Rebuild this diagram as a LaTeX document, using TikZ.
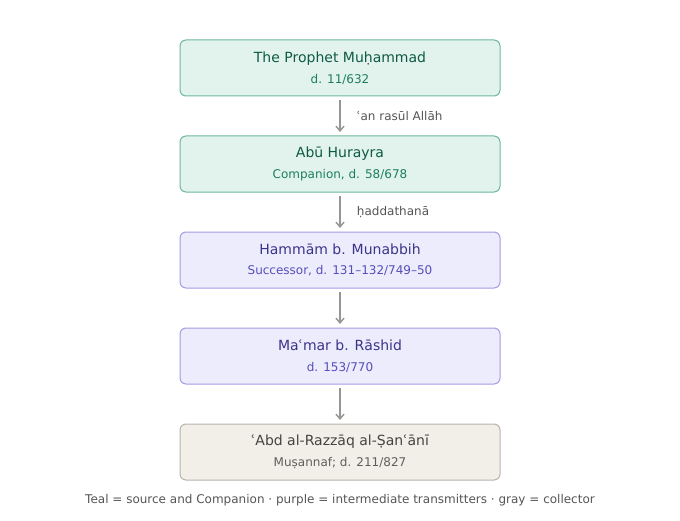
\documentclass[tikz,border=0pt]{standalone}
\usepackage{fontspec}
\setmainfont{DejaVu Sans}
\usepackage{xcolor}
\definecolor{TealFill}{HTML}{E1F3EC}
\definecolor{TealLine}{HTML}{6DB89A}
\definecolor{TealText}{HTML}{0E5A45}
\definecolor{TealSub}{HTML}{1B7F5E}
\definecolor{PurpFill}{HTML}{EDECFC}
\definecolor{PurpLine}{HTML}{A29CE3}
\definecolor{PurpText}{HTML}{3C3489}
\definecolor{PurpSub}{HTML}{574DBA}
\definecolor{GrayFill}{HTML}{F1EFE8}
\definecolor{GrayLine}{HTML}{B6B4AC}
\definecolor{GrayText}{HTML}{444441}
\definecolor{GraySub}{HTML}{5F5E5A}
\definecolor{ArrowGray}{HTML}{969692}
\definecolor{LabelGray}{HTML}{555555}
\usetikzlibrary{positioning,arrows.meta,calc}

\begin{document}
\begin{tikzpicture}[x=0.75pt, y=-0.75pt, line width=0.75pt, >={Straight Barb[length=3.5pt,width=6pt]},
    isnad/.style={
    rectangle,
    rounded corners=4.5pt,
    outer sep=0pt,
    minimum width=240pt,
    minimum height=42pt,
    align=center,
    font=\fontsize{10.5}{15.5}\selectfont},
    teal/.style={isnad, fill=TealFill, draw=TealLine, text=TealText},
    purp/.style={isnad, fill=PurpFill, draw=PurpLine, text=PurpText},
    graybox/.style={isnad, fill=GrayFill, draw=GrayLine, text=GrayText},
    link/.style={->, draw=ArrowGray, line width=1.1pt, shorten >=3pt, shorten <=3pt},
    via/.style={font=\fontsize{9}{11}\selectfont, text=LabelGray, anchor=west}]
    \useasboundingbox (0,0) rectangle (680,520);

    \node [teal] (Prophet) at (340,68) {The Prophet Muḥammad\\{\fontsize{9}{11}\selectfont\color{TealSub}d. 11/632}};
    \node [teal, below=30pt of Prophet] (Hurayra) {Abū Hurayra\\{\fontsize{9}{11}\selectfont\color{TealSub}Companion, d. 58/678}};
    \node [purp, below=30pt of Hurayra] (Hammam) {Hammām b. Munabbih\\{\fontsize{9}{11}\selectfont\color{PurpSub}Successor, d. 131–132/749–50}};
    \node [purp, below=30pt of Hammam] (Mamar) {Maʿmar b. Rāshid\\{\fontsize{9}{11}\selectfont\color{PurpSub}d. 153/770}};
    \node [graybox, below=30pt of Mamar] (AbdRazzaq) {ʿAbd al-Razzāq al-Ṣanʿānī\\{\fontsize{9}{11}\selectfont\color{GraySub}Muṣannaf; d. 211/827}};

    \draw[link] (Prophet) -- (Hurayra);
    \draw[link] (Hurayra) -- (Hammam);
    \draw[link] (Hammam) -- (Mamar);
    \draw[link] (Mamar) -- (AbdRazzaq);

    \node [via, right=9pt of $(Prophet.south)!0.5!(Hurayra.north)$] (Via1) {ʿan rasūl Allāh};
    \node [via, right=9pt of $(Hurayra.south)!0.5!(Hammam.north)$] (Via2) {ḥaddathanā};

    \node [font=\fontsize{9}{11}\selectfont, text=LabelGray] (Key) at (340,500) {Teal = source and Companion · purple = intermediate transmitters · gray = collector};
\end{tikzpicture}
\end{document}
